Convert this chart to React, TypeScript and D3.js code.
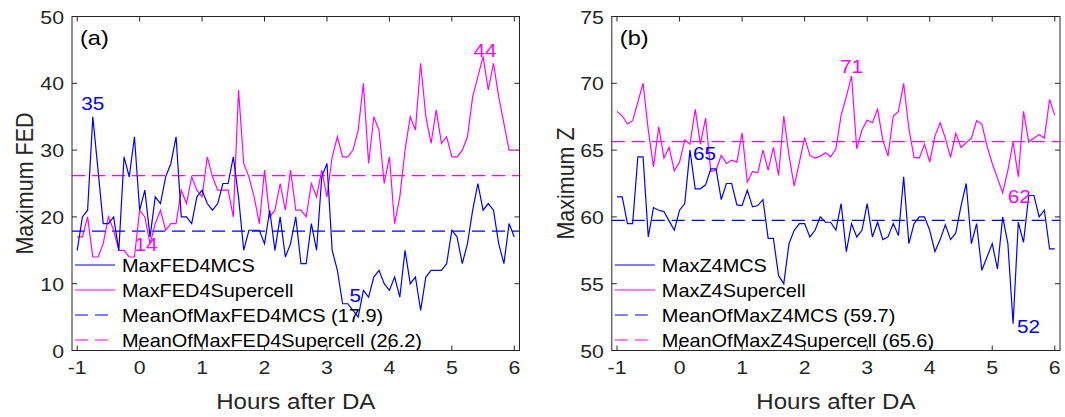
import React from 'react';
import * as d3 from 'd3';

// time axis: minutes after DA (5-minute steps)
const minutesAfterDA = [
  -60, -55, -50, -45, -40, -35, -30, -25, -20, -15, -10, -5,
  0, 5, 10, 15, 20, 25, 30, 35, 40, 45, 50, 55,
  60, 65, 70, 75, 80, 85, 90, 95, 100, 105, 110, 115,
  120, 125, 130, 135, 140, 145, 150, 155, 160, 165, 170, 175,
  180, 185, 190, 195, 200, 205, 210, 215, 220, 225, 230, 235,
  240, 245, 250, 255, 260, 265, 270, 275, 280, 285, 290, 295,
  300, 305, 310, 315, 320, 325, 330, 335, 340, 345, 350, 355,
  360,
];

const maxFED4MCS = [
  15, 20, 21, 35, 27, 19, 19, 20, 15, 29, 26, 32,
  21, 24, 17, 23, 22, 26, 28, 32, 20, 20, 19, 23,
  24, 22, 21, 22, 25, 25, 29, 23, 15, 18, 18, 18,
  16, 21, 15, 20, 14, 16, 20, 13, 13, 19, 15, 26,
  28, 15, 12, 7, 7, 6, 5, 9, 8, 11, 12, 10,
  9, 11, 8, 15, 10, 11, 6, 11, 12, 12, 12, 13,
  18, 17, 13, 16, 21, 25, 21, 22, 21, 16, 13, 19,
  17,
];

const maxFED4Supercell = [
  17, 17, 20, 14, 14, 16, 20, 18, 15, 15, 14, 14,
  21, 20, 16, 19, 21, 18, 19, 19, 24, 22, 26, 24,
  23, 29, 26, 24, 24, 24, 20, 39, 28, 26, 23, 19,
  27, 20, 21, 25, 21, 27, 21, 21, 20, 25, 23, 27,
  23, 29, 32, 29, 29, 30, 33, 40, 28, 35, 33, 25,
  29, 19, 23, 30, 35, 33, 43, 35, 31, 36, 31, 32,
  29, 29, 30, 32, 38, 41, 44, 39, 43, 38, 34, 30,
  30,
];

const maxZ4MCS = [
  61.5, 61.5, 59.5, 59.5, 64.5, 64.5, 58.5, 60.7, 60.5, 60.4, 59.7, 59.0,
  60.5, 61.0, 65.0, 62.1, 62.1, 62.4, 63.6, 63.6, 61.3, 62.5, 62.5, 60.9,
  60.85, 62.0, 60.75, 60.85, 61.3, 58.4, 58.4, 55.6, 55.0, 58.0, 59.0, 59.5,
  59.5, 58.5, 59.0, 60.0, 59.6, 59.6, 59.0, 61.0, 57.4, 59.5, 58.5, 59.0,
  61.0, 58.5, 59.6, 58.3, 58.5, 59.5, 58.6, 63.0, 58.0, 59.5, 60.0, 60.0,
  59.0, 57.4, 58.3, 59.4, 58.3, 58.8, 60.8, 62.5, 58.0, 59.5, 56.0, 57.0,
  58.0, 56.1, 60.0, 58.0, 52.0, 59.6, 58.1, 61.6, 61.6, 60.0, 60.5, 57.6,
  57.6,
];

const maxZ4Supercell = [
  67.9, 67.55, 66.95, 67.2, 68.6, 70.0, 66.5, 63.75, 66.75, 64.4, 65.2, 63.45,
  64.1, 65.75, 65.45, 68.05, 65.45, 67.4, 63.4, 63.5, 64.6, 64.0, 64.25, 64.1,
  66.3, 62.6, 63.4, 63.3, 65.0, 63.5, 65.2, 63.1, 67.55, 64.6, 62.3, 64.1,
  65.95, 64.6, 64.4, 64.55, 64.8, 64.5, 65.1, 67.6, 69.0, 70.55, 65.1, 66.5,
  67.25, 67.05, 68.05, 65.75, 64.55, 67.55, 67.9, 70.0, 66.6, 64.45, 64.4, 65.45,
  64.1, 66.05, 67.05, 65.9, 64.45, 66.25, 65.2, 65.55, 65.9, 67.2, 66.95, 65.3,
  64.0, 62.9, 61.8, 63.5, 65.6, 63.0, 67.9, 65.6, 65.9, 66.15, 65.9, 68.8,
  67.6,
];

const xTicks = [-1, 0, 1, 2, 3, 4, 5, 6];
const fedTicks = [0, 10, 20, 30, 40, 50];
const zTicks = [50, 55, 60, 65, 70, 75];

const hours = minutesAfterDA.map((m) => m / 60);

const BLUE = '#0000ff';
const MAGENTA = '#ff00ff';
const AXIS = '#262626';
const FONT = '"Liberation Sans", Arial, Helvetica, sans-serif';
const SX = 1.12; // horizontal stretch of the reference's text

type Ann = {
  series: 'mcs' | 'sc';
  kind: 'max' | 'min';
  last?: boolean;
  anchor: 'start' | 'middle';
  dx: number;
  dy: number;
};

type PanelProps = {
  left: number;
  right: number;
  top: number;
  bottom: number;
  yDomain: [number, number];
  yTicks: number[];
  mcs: number[];
  sc: number[];
  names: string[];
  letter: string;
  yLabel: string;
  yLabelX: number;
  anns: Ann[];
};

function SText(props: {
  x: number;
  y: number;
  anchor?: string;
  size: number;
  fill?: string;
  rotate?: boolean;
  children: React.ReactNode;
}) {
  const { x, y, anchor = 'start', size, fill = AXIS, rotate } = props;
  return (
    <text
      transform={`translate(${x},${y}) scale(${SX},1)${rotate ? ' rotate(-90)' : ''}`}
      textAnchor={anchor}
      fontSize={size}
      fontFamily={FONT}
      fill={fill}
    >
      {props.children}
    </text>
  );
}

function Panel(p: PanelProps) {
  const x = d3
    .scaleLinear()
    .domain([-1 - 1 / 12, 6 + 1 / 12])
    .range([p.left, p.right]);
  const y = d3.scaleLinear().domain(p.yDomain).range([p.bottom, p.top]);
  const line = d3
    .line<number>()
    .x((_, i) => x(hours[i]))
    .y((d) => y(d));
  const meanMcs = d3.mean(p.mcs) as number;
  const meanSc = d3.mean(p.sc) as number;
  const tick = 5;
  const dash = '13,7';
  const lw = 1.2;
  const legendRows = [
    { color: BLUE, dash: undefined, label: p.names[0] },
    { color: MAGENTA, dash: undefined, label: p.names[1] },
    { color: BLUE, dash, label: `${p.names[2]} (${meanMcs.toFixed(1)})` },
    { color: MAGENTA, dash, label: `${p.names[3]} (${meanSc.toFixed(1)})` },
  ];
  const legX = p.left + 3;
  const legY0 = 265;
  const legDy = 25;

  const annEls = p.anns.map((a, k) => {
    const data = a.series === 'mcs' ? p.mcs : p.sc;
    const v = a.kind === 'max' ? (d3.max(data) as number) : (d3.min(data) as number);
    const idx = a.last ? data.lastIndexOf(v) : data.indexOf(v);
    return (
      <SText
        key={k}
        x={x(hours[idx]) + a.dx}
        y={y(v) + a.dy}
        anchor={a.anchor}
        size={18.5}
        fill={a.series === 'mcs' ? BLUE : MAGENTA}
      >
        {Math.round(v)}
      </SText>
    );
  });

  return (
    <g>
      <rect x={p.left} y={p.top} width={p.right - p.left} height={p.bottom - p.top} fill="#fff" />
      <line
        x1={p.left}
        x2={p.right}
        y1={y(meanMcs)}
        y2={y(meanMcs)}
        stroke={BLUE}
        strokeWidth={lw}
        strokeDasharray={dash}
      />
      <line
        x1={p.left}
        x2={p.right}
        y1={y(meanSc)}
        y2={y(meanSc)}
        stroke={MAGENTA}
        strokeWidth={lw}
        strokeDasharray={dash}
      />
      <path d={line(p.sc) || ''} fill="none" stroke={MAGENTA} strokeWidth={lw} />
      <path d={line(p.mcs) || ''} fill="none" stroke={BLUE} strokeWidth={lw} />
      {annEls}
      {legendRows.map((r, k) => (
        <g key={k}>
          <line
            x1={legX}
            x2={legX + 40}
            y1={legY0 + k * legDy}
            y2={legY0 + k * legDy}
            stroke={r.color}
            strokeWidth={lw}
            strokeDasharray={r.dash}
          />
          <SText x={legX + 47} y={legY0 + k * legDy + 6.5} size={17.8} fill="#000">
            {r.label}
          </SText>
        </g>
      ))}
      {/* axes box and ticks */}
      <rect
        x={p.left}
        y={p.top}
        width={p.right - p.left}
        height={p.bottom - p.top}
        fill="none"
        stroke={AXIS}
        strokeWidth={1}
      />
      {xTicks.map((t) => (
        <g key={'x' + t}>
          <line x1={x(t)} x2={x(t)} y1={p.bottom} y2={p.bottom - tick} stroke={AXIS} />
          <line x1={x(t)} x2={x(t)} y1={p.top} y2={p.top + tick} stroke={AXIS} />
          <SText x={x(t)} y={p.bottom + 23} anchor="middle" size={19}>
            {t}
          </SText>
        </g>
      ))}
      {p.yTicks.map((t) => (
        <g key={'y' + t}>
          <line x1={p.left} x2={p.left + tick} y1={y(t)} y2={y(t)} stroke={AXIS} />
          <line x1={p.right} x2={p.right - tick} y1={y(t)} y2={y(t)} stroke={AXIS} />
          <SText x={p.left - 8} y={y(t) + 7} anchor="end" size={19}>
            {t}
          </SText>
        </g>
      ))}
      <SText x={p.left + 8} y={p.top + 28} size={21} fill="#000">
        {p.letter}
      </SText>
      <SText x={(p.left + p.right) / 2} y={409} anchor="middle" size={21.5}>
        Hours after DA
      </SText>
      <SText x={p.yLabelX} y={(p.top + p.bottom) / 2} anchor="middle" size={21.5} rotate>
        {p.yLabel}
      </SText>
    </g>
  );
}

export default function App() {
  return (
    <svg
      width={1065}
      height={417}
      style={{ position: 'absolute', left: 0, top: 0, background: '#fff' }}
    >
      <rect width={1065} height={417} fill="#fff" />
      <Panel
        left={72}
        right={519.5}
        top={16.5}
        bottom={350.5}
        yDomain={[0, 50]}
        yTicks={fedTicks}
        mcs={maxFED4MCS}
        sc={maxFED4Supercell}
        names={['MaxFED4MCS', 'MaxFED4Supercell', 'MeanOfMaxFED4MCS', 'MeanOfMaxFED4Supercell']}
        letter="(a)"
        yLabel="Maximum FED"
        yLabelX={33}
        anns={[
          { series: 'mcs', kind: 'max', anchor: 'middle', dx: 0, dy: -6.5 },
          { series: 'mcs', kind: 'min', anchor: 'middle', dx: -3, dy: -15 },
          { series: 'sc', kind: 'max', anchor: 'middle', dx: 2, dy: 0.5 },
          { series: 'sc', kind: 'min', last: true, anchor: 'start', dx: 0, dy: -6 },
        ]}
      />
      <Panel
        left={611.8}
        right={1060}
        top={16.5}
        bottom={350.5}
        yDomain={[50, 75]}
        yTicks={zTicks}
        mcs={maxZ4MCS}
        sc={maxZ4Supercell}
        names={['MaxZ4MCS', 'MaxZ4Supercell', 'MeanOfMaxZ4MCS', 'MeanOfMaxZ4Supercell']}
        letter="(b)"
        yLabel="Maximum Z"
        yLabelX={574}
        anns={[
          { series: 'mcs', kind: 'max', anchor: 'start', dx: 3, dy: 10 },
          { series: 'mcs', kind: 'min', anchor: 'start', dx: 4, dy: 9 },
          { series: 'sc', kind: 'max', anchor: 'middle', dx: 0, dy: -3 },
          { series: 'sc', kind: 'min', anchor: 'start', dx: 5, dy: 10 },
        ]}
      />
    </svg>
  );
}
